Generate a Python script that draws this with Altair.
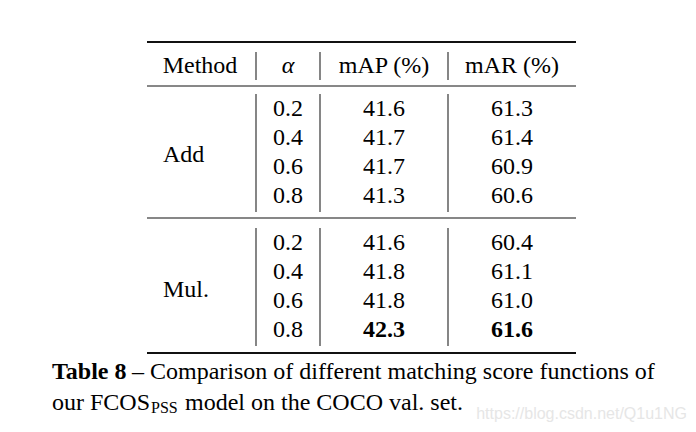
import altair as alt
import pandas as pd

# ---- table content ----
headers = ["Method", "α", "mAP (%)", "mAR (%)"]
methods = ["Add", "Mul."]
alphas = ["0.2", "0.4", "0.6", "0.8"]
map_add = [41.6, 41.7, 41.7, 41.3]
mar_add = [61.3, 61.4, 60.9, 60.6]
map_mul = [41.6, 41.8, 41.8, 42.3]
mar_mul = [60.4, 61.1, 61.0, 61.6]
best_map = 42.3
best_mar = 61.6
caption_bold = "Table 8"
caption_line1 = "– Comparison of different matching score functions of"
caption_line2a = "our FCOS"
caption_sub = "PSS"
caption_line2b = "model on the COCO val. set."
watermark = "https://blog.csdn.net/Q1u1NG"

# ---- layout (pixel positions in the page) ----
col_x = [200, 288, 384, 512]          # column centres
label_x = 163                         # left edge of method labels
header_y = 73
block_rows = [[116, 145, 174, 203], [250, 279, 308, 337]]
block_label_y = [162, 297]
table_x0, table_x1 = 147, 576
sep_x = [256, 320, 448]
sep_spans = [(52, 80), (94, 212), (228, 346)]
rules = [(42, 2.0), (86, 1.0), (218, 1.2), (353, 2.0)]

FONT = "Times New Roman, Liberation Serif, Times, serif"
FS = 24

# cells
cells = []
for i, h in enumerate(headers):
    cells.append(dict(x=col_x[i], y=header_y, t=h, bold=False, italic=(h == "α")))
blocks = [(map_add, mar_add), (map_mul, mar_mul)]
for b, (mp, mr) in enumerate(blocks):
    for r in range(4):
        y = block_rows[b][r]
        cells.append(dict(x=col_x[1], y=y, t=alphas[r], bold=False, italic=False))
        cells.append(dict(x=col_x[2], y=y, t=f"{mp[r]:.1f}",
                          bold=(b == 1 and mp[r] == best_map), italic=False))
        cells.append(dict(x=col_x[3], y=y, t=f"{mr[r]:.1f}",
                          bold=(b == 1 and mr[r] == best_mar), italic=False))
cells_df = pd.DataFrame(cells)

labels_df = pd.DataFrame(dict(x=[label_x, label_x], y=block_label_y, t=methods))

hrules_df = pd.DataFrame(dict(x=[table_x0] * 4, x2=[table_x1] * 4,
                              y=[r[0] for r in rules], w=[r[1] for r in rules]))
vr = []
for sx in sep_x:
    for (a, b) in sep_spans:
        vr.append(dict(x=sx, y=a, y2=b))
vrules_df = pd.DataFrame(vr)

xs = alt.Scale(domain=[8, 688])
ys = alt.Scale(domain=[8, 424], reverse=True)
X = lambda f="x": alt.X(f"{f}:Q", scale=xs, axis=None)
Y = lambda f="y": alt.Y(f"{f}:Q", scale=ys, axis=None)

base_cells = alt.Chart(cells_df)
reg = base_cells.transform_filter("!datum.bold && !datum.italic").mark_text(
    font=FONT, fontSize=FS, align="center", baseline="alphabetic", color="#000"
).encode(x=X(), y=Y(), text="t:N")
bold = base_cells.transform_filter("datum.bold").mark_text(
    font=FONT, fontSize=FS, fontWeight="bold", align="center", baseline="alphabetic", color="#000"
).encode(x=X(), y=Y(), text="t:N")
ital = base_cells.transform_filter("datum.italic").mark_text(
    font=FONT, fontSize=FS, fontStyle="italic", align="center", baseline="alphabetic", color="#000"
).encode(x=X(), y=Y(), text="t:N")

labels = alt.Chart(labels_df).mark_text(
    font=FONT, fontSize=FS, align="left", baseline="alphabetic", color="#000"
).encode(x=X(), y=Y(), text="t:N")

hr = alt.Chart(hrules_df).mark_rule(color="#111").encode(
    x=X(), x2="x2:Q", y=Y(), strokeWidth=alt.StrokeWidth("w:Q", scale=None, legend=None))
vrl = alt.Chart(vrules_df).mark_rule(color="#444", strokeWidth=1.3).encode(
    x=X(), y=Y(), y2="y2:Q")

cap_df = pd.DataFrame([
    dict(x=52, y=379, t=caption_bold, kind="bold"),
    dict(x=132, y=379, t=caption_line1, kind="reg"),
    dict(x=52, y=410, t=caption_line2a, kind="reg"),
    dict(x=151, y=413, t=caption_sub, kind="sub"),
    dict(x=185, y=410, t=caption_line2b, kind="reg"),
])
cap_base = alt.Chart(cap_df)
cap_bold = cap_base.transform_filter("datum.kind == 'bold'").mark_text(
    font=FONT, fontSize=FS, fontWeight="bold", align="left", baseline="alphabetic", color="#000"
).encode(x=X(), y=Y(), text="t:N")
cap_reg = cap_base.transform_filter("datum.kind == 'reg'").mark_text(
    font=FONT, fontSize=FS, align="left", baseline="alphabetic", color="#000"
).encode(x=X(), y=Y(), text="t:N")
cap_sub = cap_base.transform_filter("datum.kind == 'sub'").mark_text(
    font=FONT, fontSize=16, align="left", baseline="alphabetic", color="#000"
).encode(x=X(), y=Y(), text="t:N")

wm = alt.Chart(pd.DataFrame(dict(x=[687], y=[419], t=[watermark]))).mark_text(
    font="Liberation Sans, Arial, sans-serif", fontSize=16, align="right",
    baseline="alphabetic", color="#e6e6e6"
).encode(x=X(), y=Y(), text="t:N")

chart = alt.layer(hr, vrl, reg, bold, ital, labels, cap_bold, cap_reg, cap_sub, wm).properties(
    width=680, height=416, padding=0, autosize=alt.AutoSizeParams(type="none"),
    background="white"
).configure_view(stroke=None)

chart.save("out.html", embed_options={"renderer": "svg", "actions": False})
